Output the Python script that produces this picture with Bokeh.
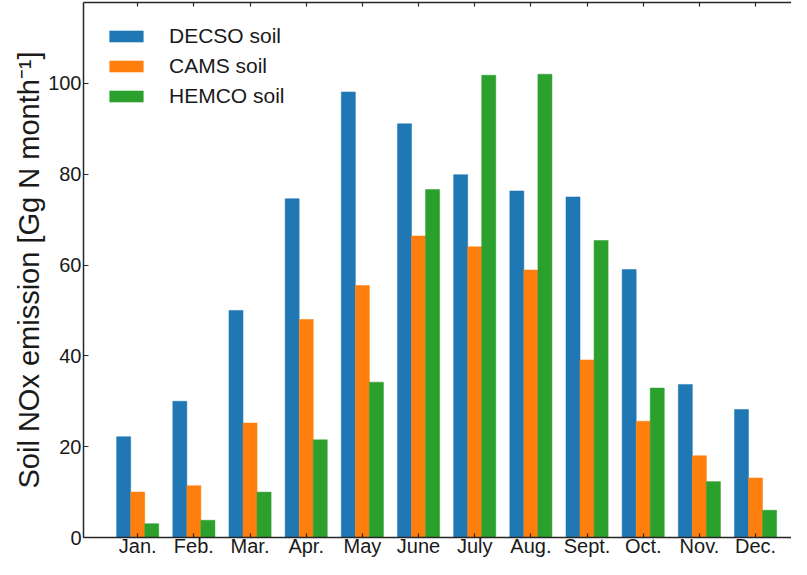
from bokeh.plotting import figure
from bokeh.models import ColumnDataSource, Range1d, FixedTicker, LinearAxis, Legend, LegendItem
from bokeh.transform import dodge
from bokeh.embed import file_html
from bokeh.resources import INLINE

months = ["Jan.", "Feb.", "Mar.", "Apr.", "May", "June", "July", "Aug.", "Sept.", "Oct.", "Nov.", "Dec."]
decso = [22.2, 30.0, 50.0, 74.6, 98.1, 91.1, 79.9, 76.3, 75.0, 59.0, 33.7, 28.2]
cams = [10.0, 11.4, 25.2, 48.0, 55.5, 66.4, 64.0, 58.9, 39.1, 25.6, 18.0, 13.1]
hemco = [3.05, 3.8, 10.0, 21.5, 34.2, 76.6, 101.8, 102.0, 65.4, 32.9, 12.3, 6.0]
y_ticks = [0, 20, 40, 60, 80, 100]

idx = list(range(len(months)))
src = ColumnDataSource(dict(x=idx, decso=decso, cams=cams, hemco=hemco))

FONT = "Liberation Sans"
AX = "#262626"

p = figure(width=791, height=559, output_backend="svg", toolbar_location=None,
           x_range=Range1d(-0.965, 11.64), y_range=Range1d(0, 117.8),
           min_border_left=83, min_border_right=0, min_border_top=2, min_border_bottom=0,
           x_axis_location=None, y_axis_location=None)
p.outline_line_color = None
p.xgrid.visible = False
p.ygrid.visible = False

w = 0.25
r1 = p.vbar(x=dodge("x", -w, range=p.x_range), top="decso", width=w, source=src,
            fill_color="#1f77b4", line_color="#1f77b4", line_alpha=0.5)
r2 = p.vbar(x=dodge("x", 0, range=p.x_range), top="cams", width=w, source=src,
            fill_color="#ff7f0e", line_color="#ff7f0e", line_alpha=0.5)
r3 = p.vbar(x=dodge("x", w, range=p.x_range), top="hemco", width=w, source=src,
            fill_color="#2ca02c", line_color="#2ca02c", line_alpha=0.5)

def style(ax):
    ax.axis_line_color = AX
    ax.axis_line_width = 1.5
    ax.major_tick_line_color = AX
    ax.major_tick_line_width = 1.2
    ax.major_tick_in = 4
    ax.major_tick_out = 0
    ax.minor_tick_in = 0
    ax.minor_tick_out = 0
    ax.major_label_text_font = FONT
    ax.major_label_text_color = "#1a1a1a"
    ax.major_label_text_font_size = "20px"
    ax.axis_label_standoff = 0

bottom = LinearAxis(ticker=FixedTicker(ticks=idx), axis_label=None,
                    major_label_overrides={i: m for i, m in zip(idx, months)})
style(bottom)
bottom.major_label_standoff = -3
bottom.major_label_text_line_height = 1.0
p.add_layout(bottom, "below")

top = LinearAxis(ticker=FixedTicker(ticks=idx), axis_label=None,
                 major_label_overrides={i: "" for i in idx})
style(top)
top.major_label_text_font_size = "0px"
top.major_label_standoff = 0
p.add_layout(top, "above")

left = LinearAxis(ticker=FixedTicker(ticks=y_ticks),
                  axis_label="Soil NOx emission [Gg N month\u207b\u00b9]")
style(left)
left.major_tick_in = 5
left.major_label_standoff = 2
left.axis_label_standoff = 0
left.axis_label_text_font = FONT
left.axis_label_text_font_size = "29px"
left.axis_label_text_font_style = "normal"
left.axis_label_text_color = "#1a1a1a"
p.add_layout(left, "left")

legend = Legend(items=[LegendItem(label="DECSO soil", renderers=[r1]),
                       LegendItem(label="CAMS soil", renderers=[r2]),
                       LegendItem(label="HEMCO soil", renderers=[r3])],
                location="top_left", margin=22, padding=0, spacing=6,
                glyph_width=42, glyph_height=14, label_height=14, label_standoff=22,
                border_line_color=None, background_fill_alpha=0,
                label_text_font=FONT, label_text_font_size="21px", label_text_color="#1a1a1a")
p.add_layout(legend)

open("out.html", "w").write(file_html(p, INLINE))
